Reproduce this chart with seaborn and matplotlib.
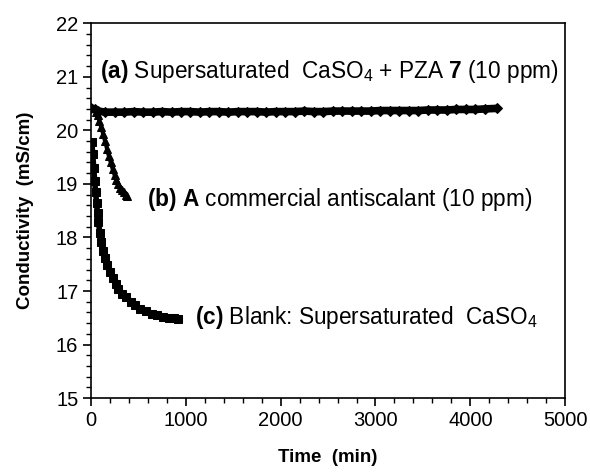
import matplotlib
matplotlib.use("Agg")
import matplotlib.pyplot as plt
import seaborn as sns
import pandas as pd
from matplotlib.ticker import MultipleLocator

# ---- data ----
time_a = [0, 40, 80, 150, 250, 350, 450, 550, 650, 750, 850, 950, 1050, 1150, 1250,
          1350, 1450, 1550, 1650, 1750, 1850, 1950, 2050, 2150, 2250, 2350, 2450,
          2550, 2650, 2750, 2850, 2950, 3050, 3150, 3250, 3350, 3450, 3550, 3650,
          3750, 3850, 3950, 4050, 4150, 4280]
cond_a = [20.42, 20.40, 20.36, 20.34, 20.34, 20.34, 20.35, 20.34, 20.34, 20.35, 20.34,
          20.35, 20.35, 20.34, 20.35, 20.35, 20.34, 20.35, 20.35, 20.35, 20.34, 20.35,
          20.35, 20.35, 20.36, 20.35, 20.35, 20.36, 20.36, 20.36, 20.36, 20.36, 20.37,
          20.37, 20.37, 20.37, 20.37, 20.38, 20.38, 20.38, 20.39, 20.39, 20.39, 20.40,
          20.41]

time_b = [50, 70, 90, 110, 130, 150, 170, 190, 210, 230, 250, 270, 290, 310, 330, 350,
          370, 385]
cond_b = [20.35, 20.28, 20.18, 20.06, 19.93, 19.80, 19.66, 19.52, 19.40, 19.28, 19.17,
          19.07, 18.99, 18.93, 18.88, 18.84, 18.80, 18.77]

time_c = [10, 20, 30, 40, 50, 60, 70, 80, 95, 110, 130, 150, 175, 200, 230, 260, 290,
          330, 370, 420, 470, 520, 580, 640, 700, 760, 820, 880, 920]
cond_c = [19.78, 19.55, 19.30, 19.05, 18.85, 18.65, 18.45, 18.28, 18.08, 17.92, 17.75,
          17.62, 17.48, 17.36, 17.24, 17.13, 17.04, 16.95, 16.88, 16.80, 16.73, 16.67,
          16.62, 16.58, 16.55, 16.52, 16.50, 16.49, 16.48]

x_ticks = [0, 1000, 2000, 3000, 4000, 5000]
y_ticks = [15, 16, 17, 18, 19, 20, 21, 22]

label_a = r"$\mathbf{(a)}$ Supersaturated  CaSO$_4$ + PZA $\mathbf{7}$ (10 ppm)"
label_b = r"$\mathbf{(b)\ A}$ commercial antiscalant (10 ppm)"
label_c = r"$\mathbf{(c)}$ Blank: Supersaturated  CaSO$_4$"

sns.set_theme(style="white")
plt.rcParams["font.family"] = ["Liberation Sans", "DejaVu Sans"]
plt.rcParams["mathtext.fontset"] = "custom"
plt.rcParams["mathtext.rm"] = "Liberation Sans"
plt.rcParams["mathtext.bf"] = "Liberation Sans:bold"
plt.rcParams["mathtext.it"] = "Liberation Sans:italic"
plt.rcParams["text.color"] = "black"
plt.rcParams["axes.labelcolor"] = "black"
plt.rcParams["xtick.color"] = "black"
plt.rcParams["ytick.color"] = "black"

df_a = pd.DataFrame({"t": time_a, "c": cond_a})
df_b = pd.DataFrame({"t": time_b, "c": cond_b})
df_c = pd.DataFrame({"t": time_c, "c": cond_c})

fig = plt.figure(figsize=(5.9, 4.74), dpi=100)
ax = fig.add_axes([0.154, 0.160, 0.804, 0.791])

sns.lineplot(data=df_a, x="t", y="c", ax=ax, color="black", lw=5.5, marker="D",
             markersize=5, markeredgecolor="black")
sns.lineplot(data=df_b, x="t", y="c", ax=ax, color="black", lw=3, marker="^",
             markersize=6, markeredgecolor="black")
sns.lineplot(data=df_c, x="t", y="c", ax=ax, color="black", lw=4, marker="s",
             markersize=6, markeredgecolor="black")

ax.set_xlim(0, 5000)
ax.set_ylim(15, 22)
ax.set_xticks(x_ticks)
ax.set_yticks(y_ticks)
ax.xaxis.set_minor_locator(MultipleLocator(200))
ax.yaxis.set_minor_locator(MultipleLocator(0.2))
ax.tick_params(which="major", direction="out", length=6, width=1.2, colors="black",
               labelsize=14.5, bottom=True, left=True, top=False, right=False, pad=3)
ax.tick_params(which="minor", direction="out", length=3.5, width=1.0, colors="black",
               bottom=True, left=True, top=False, right=False)
for s in ax.spines.values():
    s.set_color("black")
    s.set_linewidth(1.2)

ax.set_xlabel("Time  (min)", fontsize=13.5, fontweight="bold", labelpad=14, color="black")
ax.set_ylabel("Conductivity  (mS/cm)", fontsize=13.5, fontweight="bold", labelpad=16,
              color="black")

ax.text(95, 21.09, label_a, fontsize=16.3, va="center", ha="left", color="black")
ax.text(590, 18.7, label_b, fontsize=16.3, va="center", ha="left", color="black")
ax.text(1100, 16.5, label_c, fontsize=16.3, va="center", ha="left", color="black")

fig.savefig("out.png", dpi=100)
